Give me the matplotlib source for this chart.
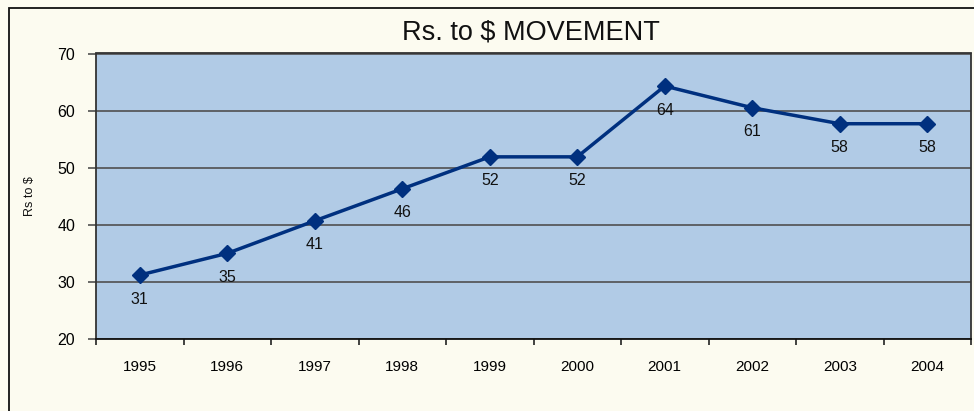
import matplotlib
matplotlib.use("Agg")
import matplotlib.pyplot as plt
from matplotlib.patches import Rectangle
import numpy as np

years = ["1995", "1996", "1997", "1998", "1999", "2000", "2001", "2002", "2003", "2004"]
rates = [31.2, 35.0, 40.7, 46.3, 51.9, 51.9, 64.3, 60.5, 57.7, 57.7]
labels = ["31", "35", "41", "46", "52", "52", "64", "61", "58", "58"]
y_ticks = [20, 30, 40, 50, 60, 70]

plt.rcParams['font.family'] = ['Liberation Sans', 'DejaVu Sans']

W, H = 974, 411
fig = plt.figure(figsize=(W / 100, H / 100), dpi=100)
fig.patch.set_facecolor('#FCFBF0')

# outer border (right/bottom edges fall outside the image)
fig.patches.append(Rectangle((9 / W, -0.1), 1.2, 1 - 8.5 / H + 0.1,
                             transform=fig.transFigure, fill=False,
                             edgecolor='#111111', linewidth=1.3))

left, right, top, bottom = 96, 971, 53.5, 339
ax = fig.add_axes([left / W, 1 - bottom / H, (right - left) / W, (bottom - top) / H])
ax.set_facecolor('#B1CBE6')

x = np.arange(len(years))
ax.set_xlim(-0.5, len(years) - 0.5)
ax.set_ylim(20, 70)

ax.yaxis.grid(True, color='#505050', linewidth=1.2)
ax.set_axisbelow(True)

ax.plot(x, rates, color='#00307F', linewidth=2.5, marker='D', markersize=7.8,
        markerfacecolor='#00307F', markeredgecolor='#00307F', zorder=3)

for xi, yi, lab in zip(x, rates, labels):
    ax.annotate(lab, (xi, yi), xytext=(0, -24), textcoords='offset pixels',
                ha='center', va='center', fontsize=11.5, color='#111111', zorder=4)

# x axis: ticks at category boundaries, labels at centers
ax.set_xticks(np.arange(len(years) + 1) - 0.5)
ax.set_xticklabels([])
ax.set_xticks(x, minor=True)
ax.set_xticklabels(years, minor=True, fontsize=11)
ax.tick_params(axis='x', which='major', direction='out', length=4, width=1.2, color='#222222')
ax.tick_params(axis='x', which='minor', length=0, pad=15)

ax.set_yticks(y_ticks)
ax.set_yticklabels([str(v) for v in y_ticks], fontsize=11.5)
ax.tick_params(axis='y', direction='out', length=6, width=1.2, color='#505050', pad=9)

for s in ax.spines.values():
    s.set_color('#333333')
    s.set_linewidth(1.3)
ax.spines['bottom'].set_color('#111111')

fig.text(30 / W, 1 - 196 / H, "Rs to $", rotation=90, ha='center', va='center',
         fontsize=9, color='#111111')
fig.text(531 / W, 1 - 32 / H, "Rs. to $ MOVEMENT", ha='center', va='center',
         fontsize=19.5, color='#111111')

fig.savefig("out.png", dpi=100, facecolor=fig.get_facecolor())
